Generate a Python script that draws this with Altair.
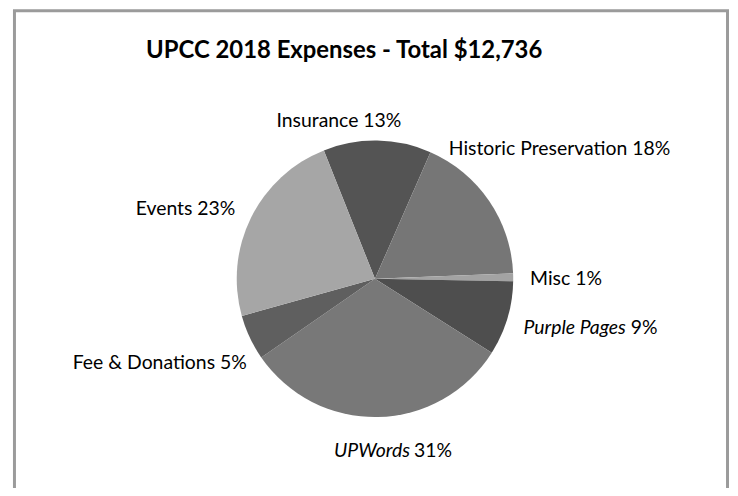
import math
import altair as alt
import pandas as pd

# ---- data ----
categories = ["Insurance", "Historic Preservation", "Misc", "Purple Pages",
              "UPWords", "Fee & Donations", "Events"]
amounts = [1605, 2267, 115, 1108, 3999, 675, 2967]          # dollars, sum = 12,736
percent_labels = ["13%", "18%", "1%", "9%", "31%", "5%", "23%"]
slice_colors = ["#545454", "#767676", "#a3a3a3", "#4e4e4e", "#787878", "#5f5f5f", "#a6a6a6"]
title_text = "UPCC 2018 Expenses - Total $12,736"

total = sum(amounts)
df = pd.DataFrame({
    "idx": list(range(len(categories))),
    "category": categories,
    "amount": amounts,
    "pct": percent_labels,
})
df["label"] = df["category"] + " " + df["pct"]

# ---- layout / style ----
FONT = "Lato"
W, H = 726, 480
CX, CY = 369, 271           # pie centre in plot coordinates
R = 139                     # pie radius
R_LAB = 160                 # label anchor radius
START = -21.7 * math.pi / 180
theta_scale = alt.Scale(domain=[0, total], range=[START, START + 2 * math.pi])
color_scale = alt.Scale(domain=categories, range=slice_colors)

pie = alt.Chart(df).mark_arc(outerRadius=R, strokeWidth=0).encode(
    theta=alt.Theta("amount:Q", stack=True, scale=theta_scale),
    order=alt.Order("idx:Q", sort="ascending"),
    color=alt.Color("category:N", scale=color_scale, legend=None),
    x=alt.value(CX),
    y=alt.value(CY),
)

label_base = alt.Chart(df).transform_stack(
    stack="amount", groupby=[], as_=["s0", "s1"],
    sort=[alt.SortField("idx", order="ascending")],
).transform_calculate(mid="(datum.s0 + datum.s1) / 2")

plain_style = {
    "Insurance": dict(align="center", dx=-39, dy=1),
    "Historic Preservation": dict(align="left", dx=-58, dy=-40),
    "Misc": dict(align="left", dx=-4, dy=2),
    "Fee & Donations": dict(align="right", dx=16, dy=17),
    "Events": dict(align="right", dx=3, dy=1),
}
split_style = {   # italic name + upright percentage
    "Purple Pages": dict(dx_name=99, dx_pct=104, dy=4),
    "UPWords": dict(dx_name=32, dx_pct=36, dy=13),
}

def text_layer(cat, field, **mk):
    return label_base.transform_filter(
        alt.datum.category == cat
    ).mark_text(radius=R_LAB, font=FONT, fontSize=19.5, color="#000000",
                baseline="middle", **mk).encode(
        theta=alt.Theta("mid:Q", scale=theta_scale),
        text=alt.Text(f"{field}:N"),
        x=alt.value(CX),
        y=alt.value(CY),
    )

layers = [pie]
for cat, st in plain_style.items():
    layers.append(text_layer(cat, "label", **st))
for cat, st in split_style.items():
    layers.append(text_layer(cat, "category", align="right", dx=st["dx_name"],
                             dy=st["dy"], fontStyle="italic"))
    layers.append(text_layer(cat, "pct", align="left", dx=st["dx_pct"], dy=st["dy"]))

one = pd.DataFrame({"t": [title_text]})
title = alt.Chart(one).mark_text(font=FONT, fontSize=24, fontWeight="bold",
                                 color="#000000", align="center", baseline="middle").encode(
    text="t:N", x=alt.value(338), y=alt.value(42))

frame = alt.Chart(one).mark_rect(fill=None, stroke="#9b9b9b", strokeWidth=3).encode(
    x=alt.value(6.5), x2=alt.value(723.5), y=alt.value(1.5), y2=alt.value(530))

chart = alt.layer(frame, *layers, title).properties(
    width=W, height=H, padding=0, autosize=alt.AutoSizeParams(type="none"),
    background="#ffffff",
).configure_view(stroke=None)

chart.save("out.html", embed_options={"renderer": "svg", "actions": False})
